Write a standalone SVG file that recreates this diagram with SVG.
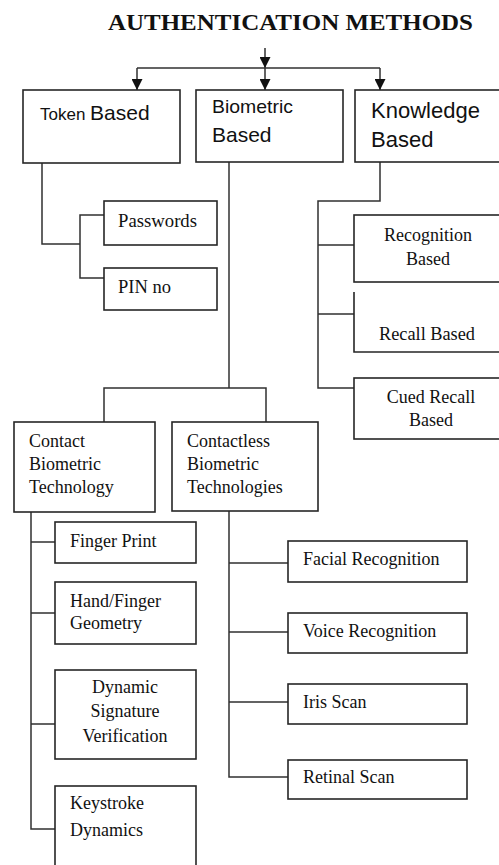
<svg xmlns="http://www.w3.org/2000/svg" width="499" height="865" viewBox="0 0 499 865">
<style>
.box{fill:#fff;stroke:#262626;stroke-width:1.6}
.ln{fill:none;stroke:#303030;stroke-width:1.5}
.s{font-family:"Liberation Serif","Times New Roman",serif;font-size:18px;fill:#111}
.a{font-family:"Liberation Sans",Arial,sans-serif;fill:#111}
.t{font-family:"Liberation Serif","Times New Roman",serif;font-size:23px;font-weight:bold;fill:#111}
</style>
<defs>
<marker id="ah" markerUnits="userSpaceOnUse" markerWidth="11" markerHeight="11" refX="11" refY="5.5" orient="auto">
<path d="M0,0 L11,5.5 L0,11 z" fill="#111"/>
</marker>
</defs>
<rect width="499" height="865" fill="#fff"/>
<text class="t" x="108" y="30" textLength="365" lengthAdjust="spacingAndGlyphs">AUTHENTICATION METHODS</text>
<g id="connectors">
<line class="ln" x1="265" y1="48" x2="265" y2="68" marker-end="url(#ah)"/>
<line class="ln" x1="137" y1="68" x2="380" y2="68"/>
<line class="ln" x1="137" y1="68" x2="137" y2="90" marker-end="url(#ah)"/>
<line class="ln" x1="265" y1="68" x2="265" y2="90" marker-end="url(#ah)"/>
<line class="ln" x1="380" y1="68" x2="380" y2="90" marker-end="url(#ah)"/>
<path class="ln" d="M42,163 V244 H80"/>
<path class="ln" d="M104,215 H80 V278 H104"/>
<path class="ln" d="M229,162 V388"/>
<path class="ln" d="M104,422 V388 H266 V422"/>
<path class="ln" d="M380,162 V201 H318 V388 H356"/>
<path class="ln" d="M318,245 H354 M318,314 H354"/>
<path class="ln" d="M31,512 V829 H55 M31,542 H55 M31,613 H55 M31,724 H55"/>
<path class="ln" d="M229,511 V777 H288 M229,563 H288 M229,632 H288 M229,702 H288"/>
</g>
<g id="token">
<rect class="box" x="23" y="90" width="157" height="73"/>
<text class="a" x="40" y="120" font-size="17">Token <tspan font-size="21">Based</tspan></text>
</g>
<g id="biometric">
<rect class="box" x="196" y="90" width="147" height="72"/>
<text class="a" x="212" y="113" font-size="19" textLength="81" lengthAdjust="spacingAndGlyphs">Biometric</text>
<text class="a" x="212" y="142" font-size="21">Based</text>
</g>
<g id="knowledge">
<rect class="box" x="355" y="90" width="150" height="72"/>
<text class="a" x="371" y="118" font-size="22">Knowledge</text>
<text class="a" x="371" y="147" font-size="22">Based</text>
</g>
<g id="passwords">
<rect class="box" x="104" y="201" width="113" height="44"/>
<text class="s" x="118" y="227" textLength="79" lengthAdjust="spacingAndGlyphs">Passwords</text>
</g>
<g id="pin">
<rect class="box" x="104" y="268" width="113" height="42"/>
<text class="s" x="118" y="293" textLength="53" lengthAdjust="spacingAndGlyphs">PIN no</text>
</g>
<g id="recognition">
<rect class="box" x="354" y="215" width="151" height="67"/>
<text class="s" x="428" y="241" text-anchor="middle">Recognition</text>
<text class="s" x="428" y="265" text-anchor="middle">Based</text>
</g>
<g id="recall">
<path class="box" d="M354,292 V352 H505"/>
<text class="s" x="379" y="340" textLength="96" lengthAdjust="spacingAndGlyphs">Recall Based</text>
</g>
<g id="cued">
<rect class="box" x="354" y="378" width="151" height="61"/>
<text class="s" x="431" y="403" text-anchor="middle">Cued Recall</text>
<text class="s" x="431" y="426" text-anchor="middle">Based</text>
</g>
<g id="contact">
<rect class="box" x="14" y="422" width="141" height="90"/>
<text class="s" x="29" y="447">Contact</text>
<text class="s" x="29" y="470">Biometric</text>
<text class="s" x="29" y="493">Technology</text>
</g>
<g id="contactless">
<rect class="box" x="172" y="422" width="146" height="89"/>
<text class="s" x="187" y="447">Contactless</text>
<text class="s" x="187" y="470">Biometric</text>
<text class="s" x="187" y="493">Technologies</text>
</g>
<g id="finger">
<rect class="box" x="55" y="522" width="141" height="41"/>
<text class="s" x="70" y="547">Finger Print</text>
</g>
<g id="hand">
<rect class="box" x="55" y="582" width="141" height="62"/>
<text class="s" x="70" y="607">Hand/Finger</text>
<text class="s" x="70" y="629">Geometry</text>
</g>
<g id="signature">
<rect class="box" x="55" y="670" width="141" height="89"/>
<text class="s" x="125" y="693" text-anchor="middle">Dynamic</text>
<text class="s" x="125" y="717" text-anchor="middle">Signature</text>
<text class="s" x="125" y="742" text-anchor="middle">Verification</text>
</g>
<g id="keystroke">
<rect class="box" x="55" y="786" width="141" height="90"/>
<text class="s" x="70" y="809">Keystroke</text>
<text class="s" x="70" y="836">Dynamics</text>
</g>
<g id="facial">
<rect class="box" x="288" y="541" width="179" height="41"/>
<text class="s" x="303" y="565">Facial Recognition</text>
</g>
<g id="voice">
<rect class="box" x="288" y="613" width="179" height="40"/>
<text class="s" x="303" y="637">Voice Recognition</text>
</g>
<g id="iris">
<rect class="box" x="288" y="684" width="179" height="40"/>
<text class="s" x="303" y="708">Iris Scan</text>
</g>
<g id="retinal">
<rect class="box" x="288" y="760" width="179" height="39"/>
<text class="s" x="303" y="783">Retinal Scan</text>
</g>
</svg>
